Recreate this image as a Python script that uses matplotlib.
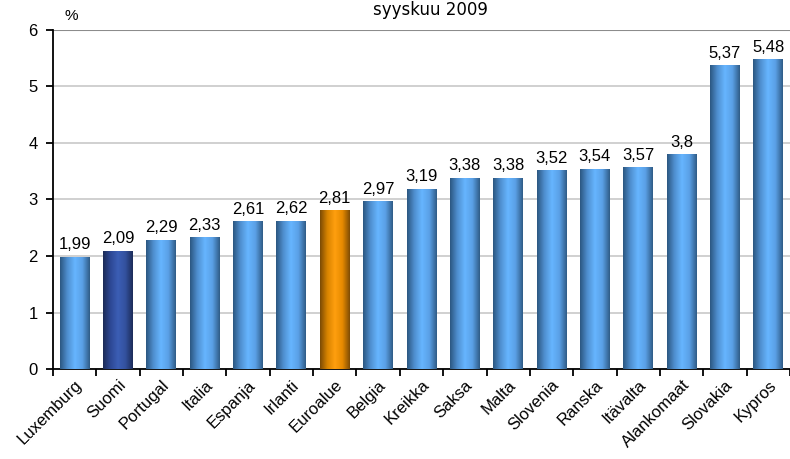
import numpy as np
import matplotlib.pyplot as plt
from matplotlib.colors import LinearSegmentedColormap

# data
maat = ['Luxemburg', 'Suomi', 'Portugal', 'Italia', 'Espanja', 'Irlanti',
        'Euroalue', 'Belgia', 'Kreikka', 'Saksa', 'Malta', 'Slovenia',
        'Ranska', 'Itävalta', 'Alankomaat', 'Slovakia', 'Kypros']
arvot = [1.99, 2.09, 2.29, 2.33, 2.61, 2.62, 2.81, 2.97, 3.19, 3.38, 3.38,
         3.52, 3.54, 3.57, 3.8, 5.37, 5.48]
nimikkeet = ['1,99', '2,09', '2,29', '2,33', '2,61', '2,62', '2,81', '2,97',
             '3,19', '3,38', '3,38', '3,52', '3,54', '3,57', '3,8', '5,37',
             '5,48']

# liukuvärit: reuna, keskikohta, reuna
sininen = LinearSegmentedColormap.from_list(
    'sin', ['#2b5680', '#4f8fcf', '#66b5ff', '#5aa0e6', '#2f5b86'])
tumma = LinearSegmentedColormap.from_list(
    'tum', ['#1b2a55', '#2d4894', '#3b5eb5', '#33519e', '#1c2b58'])
oranssi = LinearSegmentedColormap.from_list(
    'ora', ['#7a4a05', '#d98400', '#ff9f0f', '#e68a00', '#7d4c05'])

fig = plt.figure(figsize=(7.9, 4.59), dpi=100)
ax = fig.add_axes([0.067, 0.196, 0.933, 0.739])

x = np.arange(len(maat))
leveys = 0.69
palkit = ax.bar(x, arvot, width=leveys, color='none', edgecolor='none', zorder=3)

grad = np.linspace(0, 1, 256).reshape(1, -1)
for i, (p, v) in enumerate(zip(palkit, arvot)):
    if maat[i] == 'Suomi':
        cm = tumma
    elif maat[i] == 'Euroalue':
        cm = oranssi
    else:
        cm = sininen
    x0 = p.get_x()
    im = ax.imshow(grad, cmap=cm, aspect='auto',
                   extent=(x0, x0 + leveys, 0, v), zorder=3)
    im.set_clip_path(p)
    ax.text(x[i], v + 0.08, nimikkeet[i], ha='center', va='bottom',
            fontsize=12, family='Liberation Sans', zorder=4)

ax.set_xlim(-0.5, len(maat) - 0.5)
ax.set_ylim(0, 6)
ax.set_yticks(range(0, 7))
ax.yaxis.grid(True, color='#c8c8c8', linewidth=1.2, zorder=0)
ax.set_axisbelow(True)
ax.axhline(6, color='#8c8c8c', linewidth=1.5, zorder=1)

ax.set_xticks(x)
ax.set_xticklabels(maat, rotation=45, ha='right', rotation_mode='anchor',
                   fontsize=12, family='Liberation Sans')
ax.tick_params(axis='x', length=0, pad=6)
ax.set_xticks(np.arange(-0.5, len(maat), 1), minor=True)
ax.tick_params(axis='x', which='minor', length=5, width=1.3, direction='out')
ax.tick_params(axis='y', length=5, width=1.3, direction='out',
               labelsize=12, pad=6)
for lab in ax.get_yticklabels():
    lab.set_family('Liberation Sans')

for s in ['top', 'right']:
    ax.spines[s].set_visible(False)
ax.spines['left'].set_linewidth(1.3)
ax.spines['bottom'].set_linewidth(1.3)

fig.text(0.082, 0.965, '%', fontsize=11, family='Liberation Sans',
         ha='left', va='center')
fig.text(0.545, 0.978, 'syyskuu 2009', fontsize=12, family='DejaVu Sans',
         ha='center', va='center')

fig.savefig('out.png', dpi=100)
